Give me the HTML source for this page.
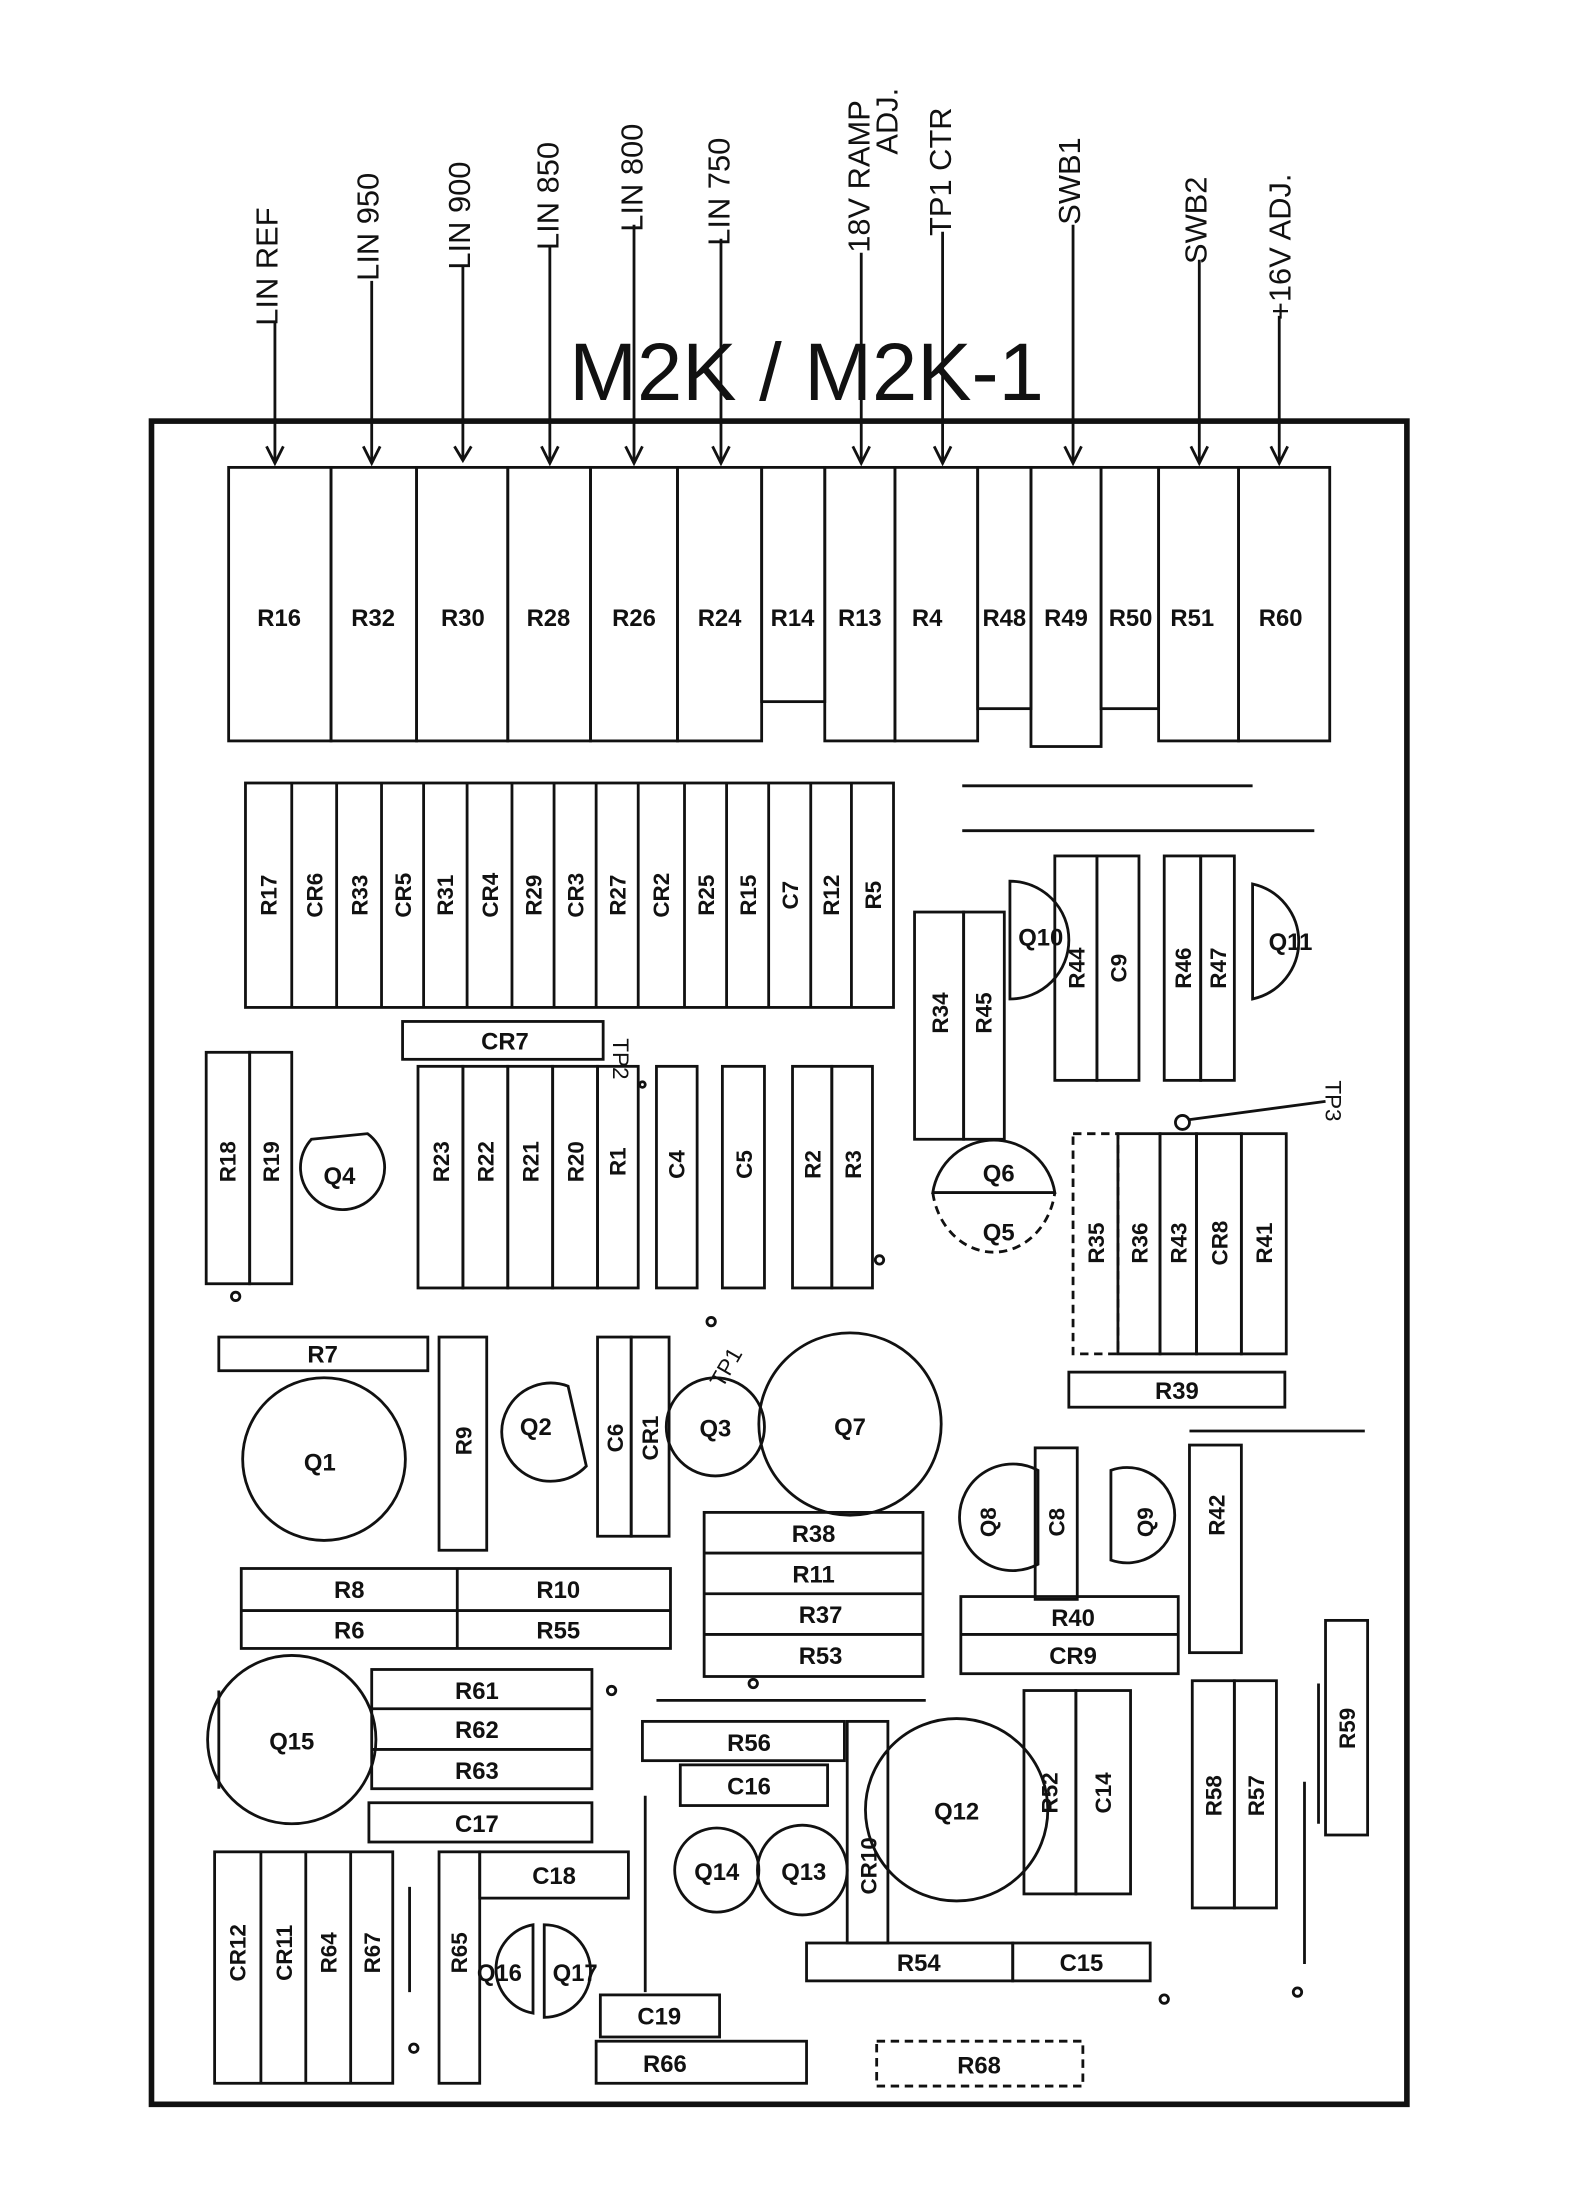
<!DOCTYPE html>
<html><head><meta charset="utf-8"><style>
html,body{margin:0;padding:0;background:#fff}
svg{display:block}
text{font-family:"Liberation Sans",sans-serif;font-weight:bold;fill:#111}
.h text, text.h{font-weight:normal}
</style></head><body>
<svg width="1571" height="2200" viewBox="0 0 1120 1568" xmlns="http://www.w3.org/2000/svg">
<g fill="none" stroke="#111" stroke-width="2">
<rect x="108" y="300" width="895" height="1200" stroke-width="4"/>
<rect x="163" y="333" width="73" height="195"/><rect x="236" y="333" width="61" height="195"/>
<rect x="297" y="333" width="65" height="195"/><rect x="362" y="333" width="59" height="195"/>
<rect x="421" y="333" width="62" height="195"/><rect x="483" y="333" width="60" height="195"/>
<rect x="543" y="333" width="45" height="167"/><rect x="588" y="333" width="50" height="195"/>
<rect x="638" y="333" width="59" height="195"/><rect x="697" y="333" width="38" height="172"/>
<rect x="735" y="333" width="50" height="199"/><rect x="785" y="333" width="41" height="172"/>
<rect x="826" y="333" width="57" height="195"/><rect x="883" y="333" width="65" height="195"/>
<rect x="175" y="558" width="462" height="160"/>
<path d="M208 558V718M240 558V718M272 558V718M302 558V718M333 558V718M365 558V718M395 558V718M425 558V718M455 558V718M488 558V718M518 558V718M548 558V718M578 558V718M607 558V718"/>
<rect x="287" y="728" width="143" height="27"/>
<path d="M686 560H893M686 592H937M848 1020H973M468 1212H660"/>
<rect x="652" y="650" width="35" height="162"/><rect x="687" y="650" width="29" height="162"/>
<path d="M720 628A42 42 0 0 1 720 712Z"/>
<rect x="752" y="610" width="30" height="160"/><rect x="782" y="610" width="30" height="160"/>
<rect x="830" y="610" width="26" height="160"/><rect x="856" y="610" width="24" height="160"/>
<path d="M893 630A42 42 0 0 1 893 712Z"/>
<rect x="147" y="750" width="31" height="165"/><rect x="178" y="750" width="30" height="165"/>
<path d="M222 812L262 808A30 30 0 1 1 222 812Z"/>
<rect x="298" y="760" width="32" height="158"/><rect x="330" y="760" width="32" height="158"/>
<rect x="362" y="760" width="32" height="158"/><rect x="394" y="760" width="32" height="158"/>
<rect x="426" y="760" width="29" height="158"/>
<rect x="468" y="760" width="29" height="158"/><rect x="515" y="760" width="30" height="158"/>
<rect x="565" y="760" width="28" height="158"/><rect x="593" y="760" width="29" height="158"/>
<path d="M665 850A44 44 0 0 1 752 850Z"/>
<path d="M665 850A44 50 0 0 0 752 850" stroke-dasharray="6 4"/>
<rect x="765" y="808" width="32" height="157" stroke-dasharray="6 4"/>
<rect x="797" y="808" width="30" height="157"/><rect x="827" y="808" width="26" height="157"/>
<rect x="853" y="808" width="32" height="157"/><rect x="885" y="808" width="32" height="157"/>
<rect x="762" y="978" width="154" height="25"/>
<circle cx="843" cy="800" r="5"/><path d="M848 798L945 785"/>
<rect x="156" y="953" width="149" height="24"/>
<circle cx="231" cy="1040" r="58"/>
<rect x="313" y="953" width="34" height="152"/>
<path d="M405 988A35 35 0 1 0 418 1045Z"/>
<rect x="426" y="953" width="24" height="142"/><rect x="450" y="953" width="27" height="142"/>
<circle cx="510" cy="1017" r="35"/><circle cx="606" cy="1015" r="65"/>
<path d="M740 1048A38 38 0 1 0 740 1115Z"/>
<rect x="738" y="1032" width="30" height="108"/>
<path d="M792 1048A34 34 0 1 1 792 1112Z"/>
<rect x="848" y="1030" width="37" height="148"/>
<rect x="502" y="1078" width="156" height="117"/><path d="M502 1107H658M502 1136H658M502 1165H658"/>
<rect x="172" y="1118" width="306" height="57"/><path d="M172 1148H478M326 1118V1175"/>
<rect x="685" y="1138" width="155" height="55"/><path d="M685 1165H840"/>
<rect x="945" y="1155" width="30" height="153"/>
<circle cx="208" cy="1240" r="60"/><path d="M156 1205V1275"/>
<rect x="265" y="1190" width="157" height="85"/><path d="M265 1218H422M265 1247H422"/>
<rect x="458" y="1227" width="144" height="28"/><rect x="485" y="1258" width="105" height="29"/>
<rect x="604" y="1227" width="29" height="158"/>
<circle cx="682" cy="1290" r="65"/>
<rect x="730" y="1205" width="37" height="145"/><rect x="767" y="1205" width="39" height="145"/>
<rect x="850" y="1198" width="30" height="162"/><rect x="880" y="1198" width="30" height="162"/>
<rect x="263" y="1285" width="159" height="28"/>
<circle cx="511" cy="1333" r="30"/><circle cx="572" cy="1333" r="32"/>
<rect x="153" y="1320" width="127" height="165"/><path d="M186 1320V1485M218 1320V1485M250 1320V1485"/>
<rect x="313" y="1320" width="29" height="165"/><rect x="342" y="1320" width="106" height="33"/>
<path d="M380 1372A32 32 0 0 0 380 1435Z"/><path d="M388 1372A32 32 0 0 1 388 1438Z"/>
<rect x="575" y="1385" width="147" height="27"/><rect x="722" y="1385" width="98" height="27"/>
<rect x="428" y="1422" width="85" height="30"/><rect x="425" y="1455" width="150" height="30"/>
<rect x="625" y="1455" width="147" height="32" stroke-dasharray="6 4"/>
<path d="M292 1345V1420M460 1280V1420M930 1270V1400M940 1200V1300"/>
<circle cx="168" cy="924" r="3"/><circle cx="627" cy="898" r="3"/><circle cx="507" cy="942" r="3"/>
<circle cx="436" cy="1205" r="3"/><circle cx="537" cy="1200" r="3"/><circle cx="295" cy="1460" r="3"/>
<circle cx="830" cy="1425" r="3"/><circle cx="925" cy="1420" r="3"/><circle cx="458" cy="773" r="2"/>
<path d="M196 230V328M265 200V330M330 190V328M392 175V330M452 160V330M514 170V330M614 180V330M672 165V330M765 160V330M855 185V330M912 225V330"/>
<path d="M190 318L196 330L202 318M259 318L265 330L271 318M324 318L330 328L336 318M386 318L392 330L398 318M446 318L452 330L458 318M508 318L514 330L520 318M608 318L614 330L620 318M666 318L672 330L678 318M759 318L765 330L771 318M849 318L855 330L861 318M906 318L912 330L918 318"/>
</g>
<text x="575" y="285" class="h" font-size="58" text-anchor="middle">M2K / M2K-1</text>
<g class="h" font-size="22">
<text transform="translate(198,232) rotate(-90)">LIN REF</text>
<text transform="translate(270,200) rotate(-90)">LIN 950</text>
<text transform="translate(335,192) rotate(-90)">LIN 900</text>
<text transform="translate(398,178) rotate(-90)">LIN 850</text>
<text transform="translate(458,165) rotate(-90)">LIN 800</text>
<text transform="translate(520,175) rotate(-90)">LIN 750</text>
<text transform="translate(620,180) rotate(-90)">18V RAMP</text>
<text transform="translate(640,110) rotate(-90)">ADJ.</text>
<text transform="translate(678,168) rotate(-90)">TP1 CTR</text>
<text transform="translate(770,160) rotate(-90)">SWB1</text>
<text transform="translate(860,188) rotate(-90)">SWB2</text>
<text transform="translate(920,228) rotate(-90)">+16V ADJ.</text>
<text transform="translate(437,740) rotate(90)" font-size="16">TP2</text>
<text transform="translate(945,770) rotate(90)" font-size="16">TP3</text>
<text transform="translate(515,990) rotate(-60)" font-size="16">TP1</text>
</g>
<g font-size="17" text-anchor="middle">
<text x="199" y="446">R16</text><text x="266" y="446">R32</text><text x="330" y="446">R30</text>
<text x="391" y="446">R28</text><text x="452" y="446">R26</text><text x="513" y="446">R24</text>
<text x="565" y="446">R14</text><text x="613" y="446">R13</text><text x="661" y="446">R4</text>
<text x="716" y="446">R48</text><text x="760" y="446">R49</text><text x="806" y="446">R50</text>
<text x="850" y="446">R51</text><text x="913" y="446">R60</text>
<text x="360" y="748">CR7</text><text x="742" y="674">Q10</text><text x="920" y="677">Q11</text>
<text x="242" y="844">Q4</text><text x="712" y="842">Q6</text><text x="712" y="884">Q5</text>
<text x="839" y="997">R39</text><text x="230" y="971">R7</text><text x="228" y="1048">Q1</text>
<text x="382" y="1023">Q2</text><text x="510" y="1024">Q3</text><text x="606" y="1023">Q7</text>
<text x="580" y="1099">R38</text><text x="580" y="1128">R11</text><text x="585" y="1157">R37</text><text x="585" y="1186">R53</text>
<text x="249" y="1139">R8</text><text x="398" y="1139">R10</text><text x="249" y="1168">R6</text><text x="398" y="1168">R55</text>
<text x="765" y="1159">R40</text><text x="765" y="1186">CR9</text>
<text x="208" y="1247">Q15</text><text x="340" y="1211">R61</text><text x="340" y="1239">R62</text><text x="340" y="1268">R63</text>
<text x="534" y="1248">R56</text><text x="534" y="1279">C16</text><text x="682" y="1297">Q12</text>
<text x="340" y="1306">C17</text><text x="511" y="1340">Q14</text><text x="573" y="1340">Q13</text>
<text x="395" y="1343">C18</text><text x="356" y="1412">Q16</text><text x="410" y="1412">Q17</text>
<text x="655" y="1405">R54</text><text x="771" y="1405">C15</text><text x="470" y="1443">C19</text>
<text x="474" y="1477">R66</text><text x="698" y="1478">R68</text>
</g>
<g font-size="16" text-anchor="middle">
<g transform="rotate(-90)">
<text x="-638" y="197">R17</text><text x="-638" y="230">CR6</text><text x="-638" y="262">R33</text>
<text x="-638" y="293">CR5</text><text x="-638" y="323">R31</text><text x="-638" y="355">CR4</text>
<text x="-638" y="386">R29</text><text x="-638" y="416">CR3</text><text x="-638" y="446">R27</text>
<text x="-638" y="477">CR2</text><text x="-638" y="509">R25</text><text x="-638" y="539">R15</text>
<text x="-638" y="569">C7</text><text x="-638" y="598">R12</text><text x="-638" y="628">R5</text>
<text x="-722" y="676">R34</text><text x="-722" y="707">R45</text>
<text x="-690" y="773">R44</text><text x="-690" y="803">C9</text>
<text x="-690" y="849">R46</text><text x="-690" y="874">R47</text>
<text x="-828" y="168">R18</text><text x="-828" y="199">R19</text>
<text x="-828" y="320">R23</text><text x="-828" y="352">R22</text><text x="-828" y="384">R21</text>
<text x="-828" y="416">R20</text><text x="-828" y="446">R1</text>
<text x="-830" y="488">C4</text><text x="-830" y="536">C5</text>
<text x="-830" y="585">R2</text><text x="-830" y="614">R3</text>
<text x="-886" y="787">R35</text><text x="-886" y="818">R36</text><text x="-886" y="846">R43</text>
<text x="-886" y="875">CR8</text><text x="-886" y="907">R41</text>
<text x="-1027" y="336">R9</text><text x="-1025" y="444">C6</text><text x="-1025" y="469">CR1</text>
<text x="-1085" y="759">C8</text><text x="-1080" y="873">R42</text>
<text x="-1232" y="966">R59</text>
<text x="-1278" y="754">R52</text><text x="-1278" y="792">C14</text>
<text x="-1280" y="871">R58</text><text x="-1280" y="901">R57</text>
<text x="-1330" y="625">CR10</text>
<text x="-1392" y="175">CR12</text><text x="-1392" y="208">CR11</text>
<text x="-1392" y="240">R64</text><text x="-1392" y="271">R67</text><text x="-1392" y="333">R65</text>
<text x="-1085" y="710">Q8</text><text x="-1085" y="822">Q9</text>
</g>
</g>
</svg>
</body></html>
